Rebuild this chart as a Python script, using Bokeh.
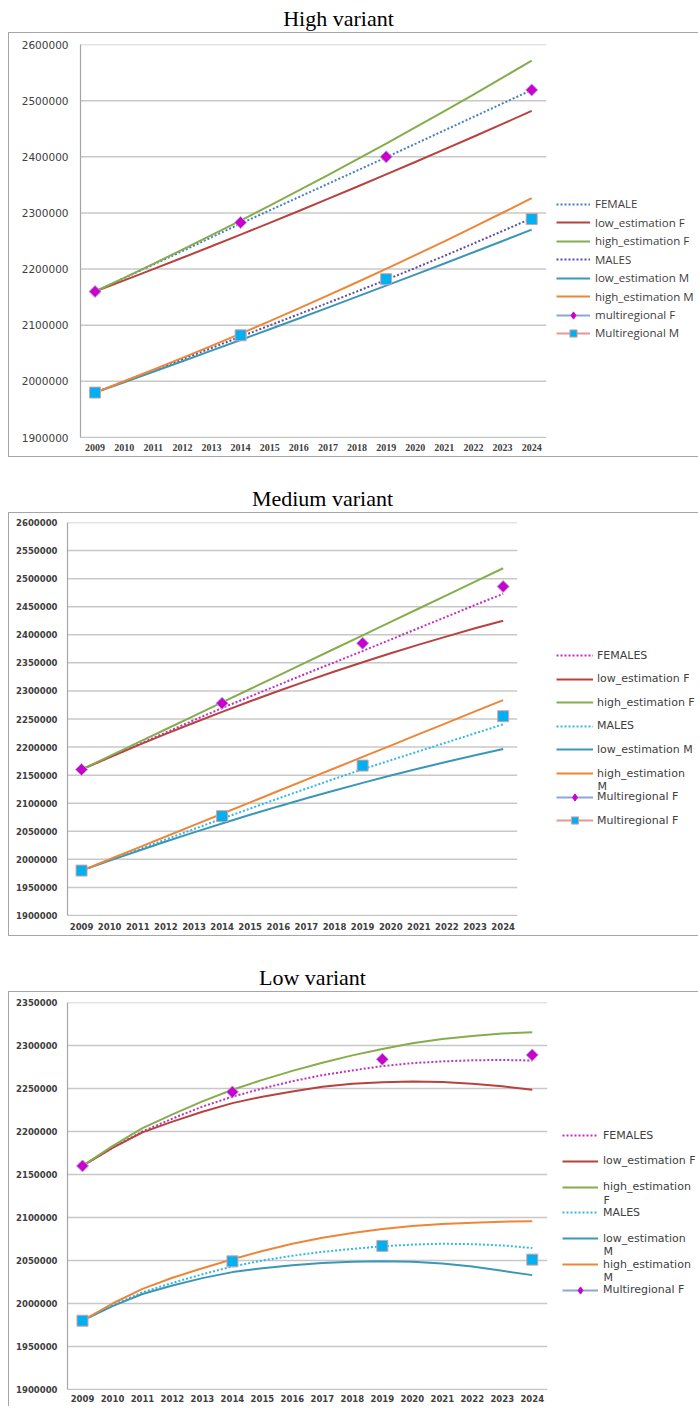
import numpy as np
from bokeh.plotting import figure
from bokeh.models import Range1d, FixedTicker, Legend, LegendItem, Label
from bokeh.embed import file_html
from bokeh.resources import INLINE
from bokeh.core.properties import value

# ---------------- data ----------------
years = [2009, 2010, 2011, 2012, 2013, 2014, 2015, 2016, 2017, 2018, 2019, 2020, 2021, 2022, 2023, 2024]
year_labels = [str(y) for y in years]
census_years = [2009, 2014, 2019, 2024]

# High variant
hv_female = [2160000, 2184000, 2208000, 2232000, 2256500, 2281000, 2304600, 2328200, 2351800, 2375400, 2399000, 2423000, 2447000, 2471000, 2495000, 2519000]
hv_low_f = [2160000, 2179800, 2199800, 2220100, 2240600, 2261300, 2282300, 2303500, 2325000, 2346700, 2368600, 2390700, 2413100, 2435700, 2458600, 2481700]
hv_high_f = [2160000, 2184400, 2209300, 2234600, 2260300, 2286400, 2313000, 2340000, 2367400, 2395200, 2423500, 2452200, 2481300, 2510900, 2540900, 2571300]
hv_males = [1980000, 1999800, 2019600, 2039400, 2059400, 2079600, 2099600, 2119600, 2139800, 2160200, 2180800, 2202000, 2223500, 2245500, 2267800, 2290500]
hv_low_m = [1980000, 1998500, 2017100, 2035900, 2054700, 2073700, 2092800, 2112000, 2131400, 2150900, 2170500, 2190200, 2210000, 2230000, 2250100, 2270300]
hv_high_m = [1980000, 2000200, 2020700, 2041700, 2063200, 2085000, 2107200, 2129900, 2153000, 2176500, 2200400, 2224800, 2249500, 2274700, 2300300, 2326300]
hv_multi_f = [2160000, 2283000, 2400000, 2519000]
hv_multi_m = [1980000, 2082000, 2182000, 2289000]
hv_y_ticks = [1900000, 2000000, 2100000, 2200000, 2300000, 2400000, 2500000, 2600000]
hv_y_labels = ["1900000", "2000000", "2100000", "2200000", "2300000", "2400000", "2500000", "2600000"]

# Medium variant
mv_females = [2160000, 2182000, 2204000, 2226000, 2248000, 2269500, 2290000, 2310500, 2331000, 2351000, 2371000, 2391500, 2412000, 2432500, 2453000, 2473000]
mv_low_f = [2160000, 2181700, 2202900, 2223400, 2243400, 2262800, 2281600, 2299900, 2317500, 2334600, 2351200, 2367100, 2382500, 2397200, 2411500, 2425100]
mv_high_f = [2160000, 2183900, 2207800, 2231700, 2255600, 2279500, 2303400, 2327300, 2351200, 2375100, 2399000, 2422900, 2446800, 2470700, 2494600, 2518500]
mv_males = [1980000, 1998500, 2017000, 2035500, 2054000, 2072500, 2090500, 2108500, 2126000, 2143500, 2160500, 2176500, 2192500, 2208500, 2224500, 2240500]
mv_low_m = [1980000, 1997700, 2015000, 2031800, 2048100, 2064000, 2079400, 2094300, 2108700, 2122700, 2136200, 2149200, 2161800, 2173900, 2185500, 2196600]
mv_high_m = [1980000, 2000200, 2020500, 2040700, 2061000, 2081200, 2101500, 2121700, 2142000, 2162200, 2182500, 2202700, 2223000, 2243200, 2263500, 2283700]
mv_multi_f = [2160000, 2278000, 2385000, 2486000]
mv_multi_m = [1980000, 2077000, 2167000, 2255000]
mv_y_ticks = [1900000, 1950000, 2000000, 2050000, 2100000, 2150000, 2200000, 2250000, 2300000, 2350000, 2400000, 2450000, 2500000, 2550000, 2600000]
mv_y_labels = ["1900000", "1950000", "2000000", "2050000", "2100000", "2150000", "2200000", "2250000", "2300000", "2350000", "2400000", "2450000", "2500000", "2550000", "2600000"]

# Low variant
lv_females = [2160000, 2181000, 2200000, 2215000, 2229000, 2240500, 2250000, 2258500, 2265500, 2271000, 2276000, 2279500, 2281500, 2282800, 2283200, 2282500]
lv_low_f = [2160000, 2181000, 2199000, 2211500, 2223000, 2233000, 2240500, 2246500, 2252000, 2255500, 2257300, 2258000, 2257500, 2255500, 2252500, 2248500]
lv_high_f = [2160000, 2183000, 2204000, 2220000, 2235000, 2248500, 2260000, 2270500, 2280000, 2288500, 2296000, 2302500, 2307500, 2311000, 2314000, 2315500]
lv_males = [1980000, 1998000, 2013000, 2024000, 2034000, 2043000, 2050000, 2055500, 2060000, 2063500, 2066500, 2068500, 2069500, 2069000, 2067500, 2064500]
lv_low_m = [1980000, 1997000, 2011000, 2021000, 2029500, 2036500, 2041000, 2044500, 2047000, 2048500, 2049000, 2048500, 2046500, 2043000, 2038000, 2033000]
lv_high_m = [1980000, 2000000, 2017000, 2030000, 2041000, 2051500, 2061000, 2069500, 2076500, 2082000, 2086500, 2090000, 2092500, 2094000, 2095200, 2095500]
lv_multi_f = [2160000, 2246000, 2284000, 2289000]
lv_multi_m = [1980000, 2049000, 2067000, 2051000]
lv_y_ticks = [1900000, 1950000, 2000000, 2050000, 2100000, 2150000, 2200000, 2250000, 2300000, 2350000]
lv_y_labels = ["1900000", "1950000", "2000000", "2050000", "2100000", "2150000", "2200000", "2250000", "2300000", "2350000"]

# ---------------- styles ----------------
C_RED = "#B8423F"
C_GREEN = "#86AD4C"
C_TEAL = "#3B97B5"
C_ORANGE = "#EE8637"
C_BLUE_DOT = "#4A7CC0"
C_PURPLE_DOT = "#5E4C9E"
C_MAG_DOT = "#C030C0"
C_CYAN_DOT = "#30B8E8"
C_DIAMOND = "#CC00CC"
C_DIAMOND_EDGE = "#A8A8E0"
C_SQUARE = "#00B0F0"
C_SQUARE_EDGE = "#D9A0A0"
C_MULTI_F_LINE = "#8EA6DA"
C_MULTI_M_LINE = "#E29A98"
AXIS_C = "#A6A6A6"
GRID_C = "#C8C8C8"
TEXT_C = "#404040"
BORDER = "1px solid #A6A6A6"
FIG_W = 690
X0, X1 = 2008.5, 2024.5


def title_fig(text, h, cx, cy):
    t = figure(width=FIG_W, height=h, x_range=Range1d(0, FIG_W), y_range=Range1d(0, h),
               min_border=0, toolbar_location=None, output_backend="svg",
               x_axis_location=None, y_axis_location=None, margin=(0, 0, 0, 8))
    t.outline_line_color = None
    t.xgrid.visible = False
    t.ygrid.visible = False
    t.add_layout(Label(x=cx, y=cy, text=text, text_align="center",
                       text_baseline="middle", text_font="Liberation Serif",
                       text_font_size="22px", text_color="black"))
    return t


def chart(height, mbl, mbt, mbb, data_w, y0, y1, yt, ylab, yfont, ysize, ystyle,
          xfont, xsize, xstyle, ystand, xstand, borders):
    styles = {f"border-{b}": BORDER for b in borders}
    frame_w = FIG_W - 1 - mbl
    x_end = X0 + (X1 - X0) * frame_w / data_w
    p = figure(width=FIG_W, height=height, x_range=Range1d(X0, x_end),
               y_range=Range1d(y0, y1), min_border_left=mbl, min_border_right=0,
               min_border_top=mbt, min_border_bottom=mbb, toolbar_location=None,
               output_backend="svg", styles=styles, margin=(0, 0, 0, 8))
    p.outline_line_color = None
    p.xgrid.visible = False
    p.ygrid.visible = False
    # horizontal gridlines only across the category area
    p.segment(x0=[X0] * len(yt), x1=[X1] * len(yt), y0=yt, y1=yt,
              line_color=GRID_C, line_width=1.5)
    # category axis line
    p.segment(x0=[X0], x1=[X1], y0=[y0], y1=[y0], line_color=AXIS_C, line_width=1.2)
    p.xaxis.ticker = FixedTicker(ticks=years)
    p.xaxis.major_label_overrides = dict(zip(years, year_labels))
    p.yaxis.ticker = FixedTicker(ticks=yt)
    p.yaxis.major_label_overrides = dict(zip(yt, ylab))
    p.xaxis.axis_line_color = None
    p.yaxis.axis_line_color = AXIS_C
    p.yaxis.axis_line_width = 1.2
    for ax in (p.xaxis[0], p.yaxis[0]):
        ax.major_tick_line_color = None
        ax.minor_tick_line_color = None
        ax.major_tick_out = 0
        ax.major_tick_in = 0
        ax.minor_tick_out = 0
        ax.major_label_text_color = TEXT_C
    p.yaxis.major_label_text_font = yfont
    p.yaxis.major_label_text_font_size = ysize
    p.yaxis.major_label_text_font_style = ystyle
    p.yaxis.major_label_standoff = ystand
    p.xaxis.major_label_text_font = xfont
    p.xaxis.major_label_text_font_size = xsize
    p.xaxis.major_label_text_font_style = xstyle
    p.xaxis.major_label_standoff = xstand
    return p


def series(p, y, color, dotted=False):
    return p.line(years, y, line_color=color, line_width=2,
                  line_dash="2 2" if dotted else "solid")


def multi(p, y, kind, line_color):
    # legend-only helpers (hidden in the plot): connecting line and legend marker
    lr = p.line(census_years, y, line_color=line_color, line_width=2, visible=False)
    if kind == "diamond":
        p.scatter(census_years, y, marker="square", angle=np.pi / 4, size=8.5,
                  fill_color=C_DIAMOND, line_color=C_DIAMOND_EDGE, line_width=1)
        lm = p.scatter(census_years, y, marker="diamond", size=12,
                       fill_color=C_DIAMOND, line_color=C_DIAMOND, visible=False)
    else:
        p.scatter(census_years, y, marker="square", size=11,
                  fill_color=C_SQUARE, line_color=C_SQUARE_EDGE, line_width=1)
        lm = p.scatter(census_years, y, marker="square", size=11,
                       fill_color=C_SQUARE, line_color=C_SQUARE_EDGE, line_width=1,
                       visible=False)
    return [lr, lm]


def legend(p, frame_h, entries, x_off, c0, step, glyph_w, standoff, font, fsize):
    h = 18
    for i, (label, rends, second) in enumerate(entries):
        c = c0 + i * step
        lg = Legend(items=[LegendItem(label=value(label), renderers=rends)],
                    location=(x_off, frame_h - c - h / 2), padding=0, margin=0, spacing=0,
                    glyph_width=glyph_w, glyph_height=h, label_height=h,
                    label_standoff=standoff, border_line_color=None,
                    background_fill_alpha=0, label_text_font=font,
                    label_text_font_size=fsize, label_text_color=TEXT_C)
        p.add_layout(lg)
        if second:
            p.add_layout(Label(x=x_off + glyph_w + standoff, y=frame_h - c - 13,
                               x_units="screen", y_units="screen", text=second,
                               text_baseline="middle", text_font=font,
                               text_font_size=fsize, text_color=TEXT_C))


# ---------------- High variant ----------------
t1 = title_fig("High variant", 32, 330, 13.6)
p1 = chart(425, 71, 11, 21, 465, 1900000, 2600000, hv_y_ticks, hv_y_labels,
           "DejaVu Sans", "10.5px", "normal", "Liberation Serif", "10px", "bold",
           12, 6, ["left", "top", "bottom"])
r = {}
r["f"] = series(p1, hv_female, C_BLUE_DOT, True)
r["lf"] = series(p1, hv_low_f, C_RED)
r["hf"] = series(p1, hv_high_f, C_GREEN)
r["m"] = series(p1, hv_males, C_PURPLE_DOT, True)
r["lm"] = series(p1, hv_low_m, C_TEAL)
r["hm"] = series(p1, hv_high_m, C_ORANGE)
r["mf"] = multi(p1, hv_multi_f, "diamond", C_MULTI_F_LINE)
r["mm"] = multi(p1, hv_multi_m, "square", C_MULTI_M_LINE)
legend(p1, 391, [
    ("FEMALE", [r["f"]], None),
    ("low_estimation F", [r["lf"]], None),
    ("high_estimation F", [r["hf"]], None),
    ("MALES", [r["m"]], None),
    ("low_estimation M", [r["lm"]], None),
    ("high_estimation M", [r["hm"]], None),
    ("multiregional F", r["mf"], None),
    ("Multiregional M", r["mm"], None),
], 476, 157.7, 18.47, 34, 5, "Open Sans", "11.5px")

# ---------------- Medium variant ----------------
t2 = title_fig("Medium variant", 55, 314, 13.6)
p2 = chart(424, 58, 9, 22, 449, 1900000, 2600000, mv_y_ticks, mv_y_labels,
           "DejaVu Sans", "8.5px", "bold", "DejaVu Sans", "8.5px", "bold",
           10, 7, ["left", "top", "bottom"])
r = {}
r["f"] = series(p2, mv_females, C_MAG_DOT, True)
r["lf"] = series(p2, mv_low_f, C_RED)
r["hf"] = series(p2, mv_high_f, C_GREEN)
r["m"] = series(p2, mv_males, C_CYAN_DOT, True)
r["lm"] = series(p2, mv_low_m, C_TEAL)
r["hm"] = series(p2, mv_high_m, C_ORANGE)
r["mf"] = multi(p2, mv_multi_f, "diamond", C_MULTI_F_LINE)
r["mm"] = multi(p2, mv_multi_m, "square", C_MULTI_M_LINE)
legend(p2, 391, [
    ("FEMALES", [r["f"]], None),
    ("low_estimation F", [r["lf"]], None),
    ("high_estimation F", [r["hf"]], None),
    ("MALES", [r["m"]], None),
    ("low_estimation M", [r["lm"]], None),
    ("high_estimation", [r["hm"]], "M"),
    ("Multiregional F", r["mf"], None),
    ("Multiregional F", r["mm"], None),
], 489, 131, 23.6, 37, 4, "DejaVu Sans", "11px")

# ---------------- Low variant ----------------
t3 = title_fig("Low variant", 55, 304, 14.3)
p3 = chart(415, 58, 10, 18, 479, 1900000, 2350000, lv_y_ticks, lv_y_labels,
           "DejaVu Sans", "8.5px", "bold", "DejaVu Sans", "8.5px", "bold",
           10, 5, ["left", "top"])
r = {}
r["f"] = series(p3, lv_females, C_MAG_DOT, True)
r["lf"] = series(p3, lv_low_f, C_RED)
r["hf"] = series(p3, lv_high_f, C_GREEN)
r["m"] = series(p3, lv_males, C_CYAN_DOT, True)
r["lm"] = series(p3, lv_low_m, C_TEAL)
r["hm"] = series(p3, lv_high_m, C_ORANGE)
r["mf"] = multi(p3, lv_multi_f, "diamond", C_MULTI_F_LINE)
r["mm"] = multi(p3, lv_multi_m, "square", C_MULTI_M_LINE)
legend(p3, 386, [
    ("FEMALES", [r["f"]], None),
    ("low_estimation F", [r["lf"]], None),
    ("high_estimation", [r["hf"]], "F"),
    ("MALES", [r["m"]], None),
    ("low_estimation", [r["lm"]], "M"),
    ("high_estimation", [r["hm"]], "M"),
    ("Multiregional F", r["mf"], None),
], 495, 132, 25.8, 36, 5, "DejaVu Sans", "11px")

open("out.html", "w").write(file_html([t1, p1, t2, p2, t3, p3], INLINE))
